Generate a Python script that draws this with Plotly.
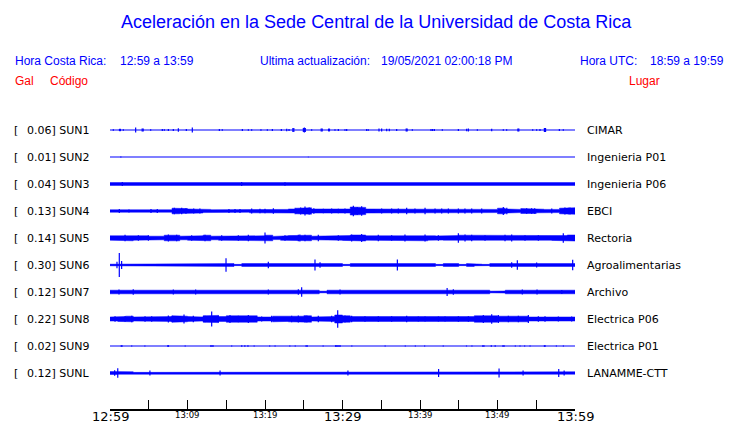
import plotly.graph_objects as go

# ---------------- data ----------------
codes = ["SUN1", "SUN2", "SUN3", "SUN4", "SUN5", "SUN6", "SUN7", "SUN8", "SUN9", "SUNL"]
places = ["CIMAR", "Ingenieria P01", "Ingenieria P06", "EBCI", "Rectoria",
          "Agroalimentarias", "Archivo", "Electrica P06", "Electrica P01", "LANAMME-CTT"]
peak_gal = [0.06, 0.01, 0.04, 0.13, 0.14, 0.30, 0.12, 0.22, 0.02, 0.12]

# background noise envelope (Gal), one value per minute (12:59 -> 13:59)
bg_SUN3 = [0.035, 0.035, 0.035, 0.035, 0.035, 0.035, 0.035, 0.035, 0.035, 0.035,
           0.035, 0.035, 0.035, 0.035, 0.035, 0.035, 0.035, 0.035, 0.035, 0.035,
           0.035, 0.035, 0.035, 0.035, 0.035, 0.035, 0.035, 0.035, 0.035, 0.035,
           0.035, 0.035, 0.035, 0.035, 0.035, 0.035, 0.035, 0.035, 0.035, 0.035,
           0.035, 0.035, 0.035, 0.035, 0.035, 0.035, 0.035, 0.035, 0.035, 0.035,
           0.035, 0.035, 0.035, 0.035, 0.035, 0.035, 0.035, 0.035, 0.035, 0.035]
bg_SUN4 = [0.03, 0.035, 0.03, 0.03, 0.03, 0.035, 0.035, 0.03,
           0.07, 0.06, 0.05, 0.05, 0.04, 0.03, 0.03, 0.04,
           0.04, 0.03, 0.045, 0.045, 0.04, 0.04, 0.04, 0.05,
           0.07, 0.08, 0.05, 0.04, 0.045, 0.045, 0.05, 0.10,
           0.09, 0.05, 0.045, 0.045, 0.05, 0.05, 0.05, 0.045,
           0.05, 0.05, 0.05, 0.05, 0.05, 0.05, 0.05, 0.045,
           0.045, 0.04, 0.07, 0.05, 0.04, 0.06, 0.06, 0.045,
           0.04, 0.04, 0.07, 0.08]
bg_SUN5 = [0.055, 0.06, 0.07, 0.055, 0.055, 0.045, 0.045, 0.07,
           0.07, 0.045, 0.055, 0.055, 0.07, 0.045, 0.055, 0.055,
           0.055, 0.055, 0.055, 0.055, 0.07, 0.04, 0.055, 0.06,
           0.07, 0.07, 0.045, 0.055, 0.055, 0.055, 0.06, 0.075,
           0.075, 0.055, 0.07, 0.055, 0.055, 0.06, 0.07, 0.07,
           0.07, 0.055, 0.05, 0.055, 0.06, 0.07, 0.07, 0.055,
           0.055, 0.055, 0.06, 0.07, 0.055, 0.06, 0.055, 0.055,
           0.055, 0.06, 0.06, 0.075]
bg_SUN6 = [0.02, 0.035, 0.02, 0.035, 0.035, 0.035, 0.035, 0.035, 0.035, 0.02,
           0.035, 0.035, 0.02, 0.025, 0.035, 0.035, 0.015, 0.035, 0.035, 0.035,
           0.035, 0.02, 0.035, 0.035, 0.035, 0.02, 0.035, 0.035, 0.035, 0.035,
           0.015, 0.035, 0.035, 0.02, 0.035, 0.035, 0.035, 0.025, 0.035, 0.035,
           0.035, 0.035, 0.015, 0.035, 0.035, 0.015, 0.035, 0.02, 0.015, 0.035,
           0.035, 0.035, 0.035, 0.035, 0.035, 0.035, 0.035, 0.035, 0.035, 0.035]
bg_SUN7 = [0.045, 0.045, 0.045, 0.045, 0.045, 0.045, 0.045, 0.045, 0.045, 0.045,
           0.045, 0.045, 0.045, 0.045, 0.045, 0.045, 0.045, 0.045, 0.045, 0.045,
           0.045, 0.045, 0.045, 0.045, 0.045, 0.045, 0.045, 0.02, 0.045, 0.045,
           0.045, 0.045, 0.045, 0.045, 0.045, 0.045, 0.045, 0.045, 0.045, 0.045,
           0.045, 0.045, 0.045, 0.045, 0.045, 0.045, 0.045, 0.045, 0.045, 0.02,
           0.025, 0.045, 0.045, 0.045, 0.045, 0.045, 0.045, 0.045, 0.045, 0.045]
bg_SUN8 = [0.05, 0.06, 0.07, 0.05, 0.06, 0.05, 0.045, 0.06,
           0.08, 0.07, 0.06, 0.05, 0.08, 0.09, 0.06, 0.08,
           0.08, 0.07, 0.08, 0.05, 0.05, 0.07, 0.06, 0.07,
           0.07, 0.08, 0.05, 0.05, 0.06, 0.10, 0.08, 0.06,
           0.05, 0.05, 0.06, 0.05, 0.05, 0.06, 0.06, 0.05,
           0.05, 0.06, 0.05, 0.05, 0.045, 0.05, 0.06, 0.08,
           0.09, 0.08, 0.07, 0.06, 0.06, 0.07, 0.05, 0.06,
           0.05, 0.05, 0.05, 0.05]
bg_SUNL = [0.035, 0.03, 0.03, 0.015, 0.03, 0.03, 0.03, 0.015, 0.03, 0.03,
           0.03, 0.03, 0.03, 0.03, 0.03, 0.015, 0.03, 0.03, 0.015, 0.03,
           0.03, 0.03, 0.03, 0.03, 0.03, 0.03, 0.03, 0.03, 0.03, 0.015,
           0.03, 0.03, 0.03, 0.015, 0.03, 0.03, 0.03, 0.03, 0.03, 0.03,
           0.03, 0.03, 0.03, 0.03, 0.03, 0.03, 0.03, 0.03, 0.015, 0.03,
           0.03, 0.03, 0.03, 0.03, 0.03, 0.03, 0.03, 0.03, 0.03, 0.03]

# individual peaks: minute after 12:59 and half-amplitude (Gal)
pk_t_SUN1 = [0.43, 1.22, 1.35, 1.72, 3.31, 4.15, 4.28, 5.25, 6.75, 7.01, 7.53, 8.17, 8.82, 9.85,
             10.62, 14.11, 14.49, 17.08, 17.85, 18.28, 19.48, 20.30, 20.95, 22.11, 22.80,
             23.10, 23.60, 23.72, 24.95, 25.08, 25.2, 26.02, 27.25, 27.38, 28.2, 28.32, 29.03,
             29.46, 30.32, 30.54, 33.12, 33.33, 34.71, 35.05, 35.70, 36.04, 36.99, 38.22,
             38.34, 39.01, 41.42, 41.63, 41.85, 42.88, 44.95, 46.02, 46.24, 47.40, 49.25,
             50.75, 51.18, 52.63, 52.75, 54.54, 55.05, 55.48, 56.05, 56.2, 57.98, 58.49]
pk_a_SUN1 = [0.02, 0.03, 0.03, 0.02, 0.06, 0.035, 0.035, 0.02, 0.025, 0.02, 0.025, 0.025, 0.045, 0.025,
             0.06, 0.025, 0.02, 0.025, 0.02, 0.02, 0.02, 0.02, 0.025, 0.025, 0.03,
             0.025, 0.05, 0.05, 0.05, 0.06, 0.05, 0.02, 0.04, 0.04, 0.035, 0.035, 0.02,
             0.025, 0.02, 0.025, 0.025, 0.02, 0.035, 0.035, 0.03, 0.03, 0.025, 0.035,
             0.035, 0.02, 0.025, 0.025, 0.025, 0.02, 0.025, 0.03, 0.04, 0.02, 0.03,
             0.02, 0.02, 0.035, 0.035, 0.02, 0.02, 0.025, 0.05, 0.05, 0.025, 0.02]
pk_t_SUN2 = [1.4, 25.6]
pk_a_SUN2 = [0.012, 0.008]
pk_t_SUN3 = [1.59, 16.99, 22.58]
pk_a_SUN3 = [0.05, 0.05, 0.045]
pk_t_SUN4 = [1.2, 2.45, 5.29, 6.1, 8.3, 9.25, 9.8, 10.8, 11.6, 15.35, 16.13, 16.77, 18.28, 19.35,
             20.0, 21.08, 23.9, 24.6, 25.16, 25.7, 26.3, 27.53, 28.6, 29.46, 30.32, 31.40,
             31.9, 32.47, 35.05, 36.34, 37.2, 38.28, 39.35, 40.65, 41.94, 42.8, 43.66, 44.95,
             45.8, 46.67, 47.96, 50.75, 51.2, 53.76, 54.4, 54.8, 57.0, 58.7, 59.14, 59.35]
pk_a_SUN4 = [0.05, 0.04, 0.05, 0.05, 0.08, 0.08, 0.07, 0.06, 0.06, 0.05, 0.05, 0.05, 0.06, 0.055,
             0.055, 0.07, 0.08, 0.09, 0.11, 0.09, 0.07, 0.055, 0.06, 0.055, 0.06, 0.13,
             0.10, 0.12, 0.06, 0.06, 0.06, 0.08, 0.06, 0.08, 0.06, 0.06, 0.06, 0.065,
             0.06, 0.06, 0.06, 0.10, 0.08, 0.07, 0.07, 0.07, 0.06, 0.09, 0.08, 0.09]
pk_t_SUN5 = [1.94, 3.66, 4.95, 7.53, 8.6, 10.54, 12.26, 14.41, 16.56, 17.85, 20.0, 22.58, 24.3,
             24.5, 25.16, 26.88, 29.46, 31.18, 32.47, 34.62, 36.34, 38.06, 40.65, 42.37,
             44.95, 45.81, 46.67, 48.39, 50.97, 51.83, 53.55, 55.27, 58.49]
pk_a_SUN5 = [0.08, 0.07, 0.07, 0.09, 0.08, 0.07, 0.08, 0.07, 0.07, 0.08, 0.14, 0.07, 0.08,
             0.09, 0.08, 0.08, 0.07, 0.09, 0.10, 0.08, 0.07, 0.09, 0.09, 0.07,
             0.12, 0.09, 0.08, 0.07, 0.08, 0.09, 0.07, 0.07, 0.12]
pk_t_SUN6 = [0.9, 1.20, 1.5, 14.97, 20.43, 26.45, 27.10, 37.08, 51.83, 52.56, 55.05, 59.70]
pk_a_SUN6 = [0.08, 0.30, 0.10, 0.17, 0.08, 0.14, 0.07, 0.14, 0.07, 0.12, 0.06, 0.13]
pk_t_SUN7 = [1.16, 3.0, 8.17, 11.05, 20.43, 24.3, 24.73, 29.68, 43.5, 44.3, 53.2, 55.1, 58.3]
pk_a_SUN7 = [0.06, 0.07, 0.06, 0.06, 0.06, 0.07, 0.12, 0.06, 0.10, 0.07, 0.06, 0.06, 0.05]
pk_t_SUN8 = [0.65, 1.94, 2.8, 4.52, 5.38, 7.53, 8.0, 9.55, 10.75, 12.26, 13.12, 13.98, 15.48,
             16.56, 17.85, 19.57, 20.86, 23.44, 24.3, 25.16, 25.4, 26.88, 28.6, 29.38, 30.32,
             31.18, 32.9, 34.62, 36.34, 38.28, 39.78, 40.65, 42.37, 43.23, 44.95, 46.24,
             48.17, 49.25, 50.11, 51.4, 52.69, 53.98, 55.27, 56.13, 57.85, 59.57]
pk_a_SUN8 = [0.07, 0.07, 0.08, 0.07, 0.07, 0.09, 0.08, 0.11, 0.08, 0.08, 0.19, 0.09, 0.10,
             0.08, 0.10, 0.06, 0.08, 0.08, 0.09, 0.09, 0.09, 0.08, 0.08, 0.22, 0.09,
             0.08, 0.07, 0.07, 0.07, 0.08, 0.06, 0.06, 0.06, 0.06, 0.07, 0.07,
             0.10, 0.12, 0.10, 0.08, 0.08, 0.10, 0.07, 0.07, 0.06, 0.06]
pk_t_SUN9 = [1.45, 1.55, 2.8, 4.5, 7.45, 7.55, 9.7, 13.0, 13.15, 13.3, 15.7, 17.0, 17.4, 17.8, 18.6,
             20.6, 21.3, 23.2, 23.9, 25.3, 25.45, 27.5, 29.1, 29.25, 29.4, 29.55, 29.7, 31.2,
             35.5, 38.1, 39.4, 40.6, 43.0, 46.0, 46.7, 48.1, 48.25, 49.2, 49.7, 50.7, 50.85,
             52.3, 52.9, 53.5, 54.2, 56.05, 56.15, 57.6, 58.5]
pk_a_SUN9 = [0.02, 0.02, 0.012, 0.012, 0.02, 0.02, 0.015, 0.02, 0.02, 0.02, 0.015, 0.02, 0.02, 0.02, 0.012,
             0.015, 0.015, 0.012, 0.012, 0.02, 0.02, 0.015, 0.02, 0.02, 0.02, 0.02, 0.02, 0.012,
             0.012, 0.012, 0.012, 0.015, 0.012, 0.012, 0.012, 0.02, 0.02, 0.02, 0.02, 0.02, 0.02,
             0.012, 0.012, 0.012, 0.012, 0.02, 0.02, 0.012, 0.012]
pk_t_SUNL = [0.6, 1.0, 5.15, 14.2, 30.7, 42.4, 50.2, 53.3, 57.9, 58.6]
pk_a_SUNL = [0.07, 0.12, 0.06, 0.06, 0.06, 0.10, 0.11, 0.06, 0.10, 0.06]

bg_by_code = {"SUN1": [], "SUN2": [], "SUN3": bg_SUN3, "SUN4": bg_SUN4, "SUN5": bg_SUN5,
              "SUN6": bg_SUN6, "SUN7": bg_SUN7, "SUN8": bg_SUN8, "SUN9": [], "SUNL": bg_SUNL}
pk_by_code = {"SUN1": (pk_t_SUN1, pk_a_SUN1), "SUN2": (pk_t_SUN2, pk_a_SUN2),
              "SUN3": (pk_t_SUN3, pk_a_SUN3), "SUN4": (pk_t_SUN4, pk_a_SUN4),
              "SUN5": (pk_t_SUN5, pk_a_SUN5), "SUN6": (pk_t_SUN6, pk_a_SUN6),
              "SUN7": (pk_t_SUN7, pk_a_SUN7), "SUN8": (pk_t_SUN8, pk_a_SUN8),
              "SUN9": (pk_t_SUN9, pk_a_SUN9), "SUNL": (pk_t_SUNL, pk_a_SUNL)}

tick_minutes = [0, 10, 20, 30, 40, 50, 60]
tick_labels = ["12:59", "13:09", "13:19", "13:29", "13:39", "13:49", "13:59"]
tick_major = [True, False, False, True, False, False, True]

title = "Aceleración en la Sede Central de la Universidad de Costa Rica"
hdr_cr = ("Hora Costa Rica:", "12:59 a 13:59")
hdr_upd = ("Ultima actualización:", "19/05/2021 02:00:18 PM")
hdr_utc = ("Hora UTC:", "18:59 a 19:59")

# ---------------- layout constants ----------------
W, H = 740, 423
PL, PR, PT, PB = 110, 575, 110, 409
PX_PER_GAL = 40.0
ROW0_PX, ROW_STEP_PX = 130, 27
BLUE, RED = "#0000ff", "#ff0000"
SANS = "Liberation Sans, Arial, sans-serif"
DJ = "DejaVu Sans, sans-serif"


def row_center(i):
    return (PB - (ROW0_PX + ROW_STEP_PX * i)) / PX_PER_GAL


fig = go.Figure()
for i, code in enumerate(codes):
    c = row_center(i)
    # baseline
    fig.add_trace(go.Scatter(x=[0, 60], y=[c, c], mode="lines",
                             line=dict(color=BLUE, width=1.2), hoverinfo="skip"))
    bg = bg_by_code[code]
    if bg:
        ux, uy = [], []
        for m, a in enumerate(bg):
            ux += [m, m + 1]
            uy += [c + a, c + a]
        lx = ux[::-1]
        ly = [2 * c - v for v in uy[::-1]]
        fig.add_trace(go.Scatter(x=ux + lx, y=uy + ly, mode="lines", fill="toself",
                                 fillcolor=BLUE, line=dict(color=BLUE, width=0.5),
                                 hoverinfo="skip"))
    ts, amps = pk_by_code[code]
    sx, sy = [], []
    for t, a in zip(ts, amps):
        sx += [t, t, None]
        sy += [c - a, c + a, None]
    fig.add_trace(go.Scatter(x=sx, y=sy, mode="lines",
                             line=dict(color=BLUE, width=1.2), hoverinfo="skip"))

annotations = []


def ann(px, py, text, color, size, family, xanchor="left"):
    # left-anchored annotations carry ~2px of box padding
    if xanchor == "left":
        px -= 2
    annotations.append(dict(
        x=(px - PL) / (PR - PL), y=(PB - py) / (PB - PT), xref="paper", yref="paper",
        text=text, showarrow=False, xanchor=xanchor, yanchor="middle",
        font=dict(color=color, size=size, family=family)))


ann(376, 22, title, BLUE, 18, SANS, "center")
ann(15, 61, hdr_cr[0], BLUE, 12, SANS)
ann(120, 61, hdr_cr[1], BLUE, 12, SANS)
ann(260, 61, hdr_upd[0], BLUE, 12, SANS)
ann(381, 61, hdr_upd[1], BLUE, 12, SANS)
ann(580, 61, hdr_utc[0], BLUE, 12, SANS)
ann(650, 61, hdr_utc[1], BLUE, 12, SANS)
ann(15, 81, "Gal", RED, 12, SANS)
ann(50, 81, "Código", RED, 12, SANS)
ann(629, 81, "Lugar", RED, 12, SANS)

for i, code in enumerate(codes):
    py = ROW0_PX + ROW_STEP_PX * i
    ann(14, py, "[", "black", 11, DJ)
    ann(27, py, f"{peak_gal[i]:.2f}] {code}", "black", 11, DJ)
    ann(587, py, places[i], "black", 11, DJ)

for t, lab, major in zip(tick_minutes, tick_labels, tick_major):
    px = PL + (PR - PL) * t / 60
    ann(px, 416 if major else 415, lab, "black", 13 if major else 8.5, DJ, "center")

fig.update_layout(
    width=W, height=H, showlegend=False,
    margin=dict(l=PL, r=W - PR, t=PT, b=H - PB, pad=0),
    paper_bgcolor="white", plot_bgcolor="white",
    annotations=annotations,
    xaxis=dict(range=[0, 60], showgrid=False, zeroline=False, showline=True,
               linecolor="black", linewidth=1.5, ticks="inside", ticklen=9,
               tickwidth=1.2, tickcolor="black", tick0=0, dtick=5,
               showticklabels=False, fixedrange=True),
    yaxis=dict(range=[0, (PB - PT) / PX_PER_GAL], showgrid=False, zeroline=False,
               showline=False, showticklabels=False, ticks="", fixedrange=True),
)

fig.write_html("out.html", config={"displayModeBar": False},
               post_script="document.body.style.margin='0';document.body.style.overflow='hidden';")
